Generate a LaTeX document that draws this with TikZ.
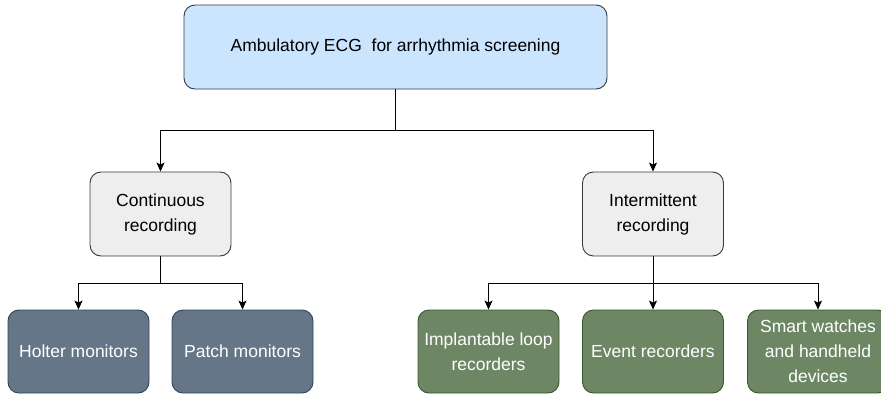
\documentclass[tikz,border=0pt]{standalone}
\usepackage{fontspec}
\setmainfont{Liberation Sans}
\usetikzlibrary{arrows.meta}
\definecolor{topfill}{HTML}{CCE5FF}
\definecolor{darkstroke}{HTML}{36393D}
\definecolor{greyfill}{HTML}{EEEEEE}
\definecolor{slatefill}{HTML}{647687}
\definecolor{slatestroke}{HTML}{314354}
\definecolor{greenfill}{HTML}{6D8764}
\definecolor{greenstroke}{HTML}{3A5431}
\tikzset{
  box/.style={rounded corners=11pt, line width=0.9pt, align=center, inner sep=2pt,
    font=\fontsize{17.5}{25}\selectfont, minimum width=141pt, minimum height=83pt},
  topbox/.style={box, fill=topfill, draw=darkstroke, minimum width=423pt, minimum height=84pt},
  midbox/.style={box, fill=greyfill, draw=darkstroke, minimum height=84pt},
  slatebox/.style={box, fill=slatefill, draw=slatestroke, text=white},
  greenbox/.style={box, fill=greenfill, draw=greenstroke, text=white},
  link/.style={line width=1pt, black},
  arr/.style={link, -{Stealth[length=9pt,width=8pt,inset=2pt]}}
}
\begin{document}
\begin{tikzpicture}[x=1pt,y=-1pt]
\useasboundingbox (0,0) rectangle (881,394);
\clip (0,0) rectangle (881,394);
\node[topbox] (top) at (395.5,47) {\raisebox{-3pt}{Ambulatory ECG\ \ for arrhythmia screening}};
\node[midbox] (cont) at (160.5,214) {Continuous\\recording};
\node[midbox] (inter) at (653,214) {Intermittent\\recording};
\node[slatebox] (holter) at (78.5,351.5) {Holter monitors};
\node[slatebox] (patch) at (242.5,351.5) {Patch monitors};
\node[greenbox] (ilr) at (488.5,351.5) {Implantable loop\\recorders};
\node[greenbox] (event) at (653,351.5) {Event recorders};
\node[greenbox] (smart) at (818,351.5) {Smart watches\\and handheld\\devices};
\coordinate (j0) at (395.5,130);
\coordinate (j1) at (160.5,283);
\coordinate (j2) at (653,283);
\draw[arr] (top.south) -- (j0) -| (cont.north);
\draw[arr] (j0) -| (inter.north);
\draw[arr] (cont.south) -- (j1) -| (holter.north);
\draw[arr] (j1) -| (patch.north);
\draw[arr] (inter.south) -- (event.north);
\draw[arr] (j2) -| (ilr.north);
\draw[arr] (j2) -| (smart.north);
\end{tikzpicture}
\end{document}
